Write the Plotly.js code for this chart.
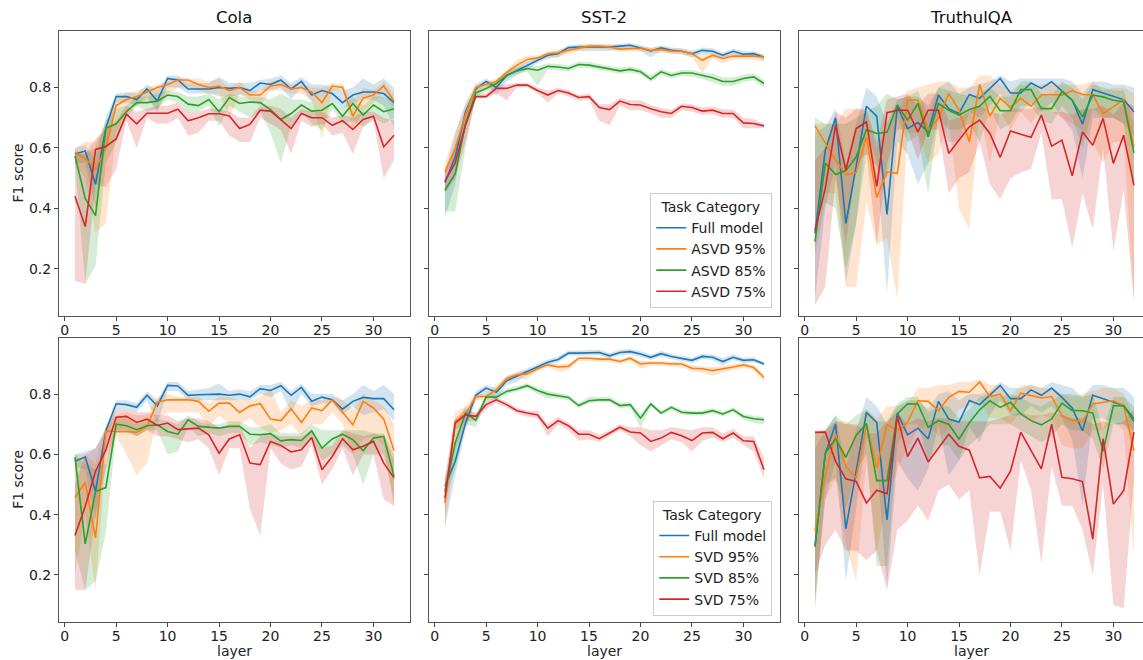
<!DOCTYPE html>
<html>
<head>
<meta charset="utf-8">
<script src="https://cdn.plot.ly/plotly-3.0.1.min.js"></script>
<style>html,body{margin:0;padding:0;background:#fff;}#chart{width:1143px;height:660px;}</style>
</head>
<body>
<div id="chart"></div>
<script>
// ---------- categories / labels ----------
const layers = [1,2,3,4,5,6,7,8,9,10,11,12,13,14,15,16,17,18,19,20,21,22,23,24,25,26,27,28,29,30,31,32];
const panelTitles = ["Cola", "SST-2", "TruthulQA"];
const namesASVD = ["Full model", "ASVD 95%", "ASVD 85%", "ASVD 75%"];
const namesSVD = ["Full model", "SVD 95%", "SVD 85%", "SVD 75%"];
const yTickVals = [0.2, 0.4, 0.6, 0.8];
const xTickVals = [0, 5, 10, 15, 20, 25, 30];

// ---------- Cola, ASVD ----------
const colaA_full    = [0.58,0.59,0.48,0.665,0.77,0.77,0.76,0.795,0.755,0.83,0.825,0.795,0.795,0.795,0.80,0.797,0.80,0.79,0.815,0.81,0.825,0.795,0.82,0.775,0.79,0.78,0.75,0.775,0.785,0.785,0.78,0.75];
const colaA_full_lo = [0.55,0.55,0.40,0.60,0.75,0.75,0.74,0.77,0.72,0.80,0.80,0.78,0.78,0.78,0.77,0.77,0.775,0.77,0.79,0.79,0.80,0.76,0.80,0.75,0.76,0.76,0.73,0.75,0.76,0.76,0.74,0.67];
const colaA_full_hi = [0.60,0.61,0.56,0.70,0.78,0.785,0.78,0.81,0.79,0.84,0.84,0.815,0.815,0.815,0.835,0.815,0.815,0.815,0.825,0.83,0.84,0.815,0.835,0.81,0.81,0.80,0.79,0.80,0.83,0.81,0.83,0.80];
const colaA_95      = [0.585,0.565,0.53,0.60,0.74,0.76,0.77,0.785,0.80,0.81,0.825,0.825,0.81,0.80,0.805,0.79,0.80,0.775,0.775,0.805,0.81,0.795,0.80,0.785,0.75,0.805,0.80,0.705,0.765,0.775,0.805,0.755];
const colaA_95_lo   = [0.55,0.50,0.32,0.35,0.65,0.72,0.74,0.76,0.73,0.78,0.80,0.80,0.79,0.78,0.78,0.70,0.78,0.76,0.74,0.79,0.79,0.78,0.78,0.76,0.63,0.79,0.79,0.66,0.72,0.75,0.78,0.73];
const colaA_95_hi   = [0.60,0.62,0.62,0.68,0.76,0.78,0.79,0.80,0.81,0.82,0.835,0.83,0.83,0.82,0.83,0.80,0.82,0.79,0.79,0.82,0.825,0.81,0.81,0.80,0.80,0.815,0.81,0.75,0.80,0.79,0.82,0.78];
const colaA_85      = [0.574,0.433,0.376,0.665,0.68,0.72,0.75,0.75,0.755,0.775,0.77,0.745,0.74,0.76,0.72,0.767,0.747,0.752,0.75,0.727,0.694,0.714,0.742,0.722,0.725,0.747,0.705,0.747,0.709,0.742,0.72,0.73];
const colaA_85_lo   = [0.55,0.15,0.21,0.55,0.62,0.70,0.74,0.72,0.73,0.76,0.75,0.72,0.72,0.74,0.67,0.74,0.72,0.70,0.72,0.65,0.55,0.67,0.72,0.68,0.66,0.73,0.68,0.69,0.67,0.70,0.68,0.70];
const colaA_85_hi   = [0.59,0.58,0.60,0.69,0.73,0.74,0.77,0.77,0.78,0.79,0.785,0.77,0.77,0.78,0.76,0.78,0.77,0.77,0.77,0.76,0.78,0.76,0.76,0.75,0.76,0.76,0.73,0.77,0.74,0.77,0.77,0.75];
const colaA_75      = [0.44,0.34,0.595,0.605,0.63,0.712,0.68,0.715,0.715,0.715,0.728,0.69,0.70,0.713,0.713,0.706,0.664,0.678,0.725,0.722,0.694,0.664,0.714,0.70,0.70,0.675,0.69,0.661,0.694,0.705,0.604,0.642];
const colaA_75_lo   = [0.16,0.15,0.48,0.47,0.53,0.69,0.60,0.70,0.68,0.68,0.70,0.64,0.65,0.69,0.69,0.64,0.62,0.62,0.70,0.68,0.66,0.58,0.69,0.67,0.68,0.64,0.65,0.58,0.67,0.69,0.50,0.56];
const colaA_75_hi   = [0.58,0.58,0.63,0.66,0.69,0.74,0.72,0.73,0.74,0.74,0.75,0.72,0.72,0.73,0.73,0.72,0.70,0.70,0.74,0.74,0.73,0.70,0.73,0.72,0.72,0.70,0.71,0.70,0.72,0.72,0.70,0.69];

// ---------- SST-2, ASVD ----------
const sst2A_full    = [0.485,0.57,0.72,0.795,0.82,0.80,0.84,0.857,0.874,0.89,0.907,0.912,0.932,0.934,0.934,0.934,0.934,0.937,0.94,0.931,0.921,0.931,0.923,0.92,0.912,0.923,0.92,0.907,0.92,0.91,0.912,0.90];
const sst2A_full_lo = [0.37,0.48,0.68,0.78,0.81,0.775,0.82,0.84,0.86,0.88,0.895,0.90,0.92,0.922,0.92,0.92,0.922,0.925,0.93,0.92,0.90,0.92,0.912,0.91,0.90,0.912,0.91,0.895,0.91,0.90,0.90,0.89];
const sst2A_full_hi = [0.52,0.65,0.75,0.81,0.83,0.81,0.85,0.87,0.885,0.90,0.915,0.922,0.94,0.942,0.942,0.942,0.942,0.945,0.948,0.94,0.93,0.94,0.932,0.93,0.922,0.932,0.93,0.915,0.928,0.92,0.92,0.908];
const sst2A_95      = [0.52,0.60,0.71,0.80,0.81,0.82,0.85,0.874,0.893,0.898,0.912,0.915,0.923,0.931,0.937,0.937,0.934,0.927,0.929,0.93,0.923,0.926,0.921,0.92,0.912,0.89,0.907,0.896,0.904,0.904,0.904,0.90];
const sst2A_95_lo   = [0.48,0.55,0.67,0.79,0.80,0.81,0.84,0.86,0.88,0.89,0.90,0.90,0.912,0.922,0.928,0.928,0.925,0.918,0.92,0.92,0.914,0.916,0.912,0.91,0.90,0.848,0.896,0.88,0.893,0.893,0.892,0.885];
const sst2A_95_hi   = [0.55,0.65,0.74,0.81,0.82,0.83,0.86,0.89,0.905,0.907,0.92,0.925,0.932,0.94,0.945,0.945,0.942,0.936,0.937,0.938,0.932,0.934,0.93,0.928,0.92,0.91,0.915,0.91,0.913,0.913,0.913,0.91];
const sst2A_85      = [0.46,0.515,0.68,0.782,0.797,0.813,0.84,0.855,0.863,0.857,0.87,0.868,0.863,0.876,0.874,0.868,0.863,0.855,0.86,0.852,0.828,0.852,0.84,0.848,0.848,0.84,0.832,0.82,0.82,0.83,0.835,0.813];
const sst2A_85_lo   = [0.39,0.39,0.60,0.77,0.787,0.80,0.83,0.845,0.853,0.805,0.86,0.857,0.853,0.866,0.864,0.858,0.853,0.845,0.85,0.842,0.818,0.842,0.83,0.838,0.836,0.828,0.818,0.806,0.806,0.818,0.823,0.80];
const sst2A_85_hi   = [0.48,0.60,0.72,0.79,0.807,0.823,0.85,0.865,0.873,0.87,0.88,0.878,0.873,0.886,0.884,0.878,0.873,0.865,0.87,0.862,0.84,0.862,0.85,0.858,0.858,0.85,0.845,0.834,0.834,0.842,0.847,0.825];
const sst2A_75      = [0.49,0.55,0.675,0.77,0.77,0.797,0.797,0.808,0.808,0.79,0.775,0.79,0.782,0.767,0.77,0.734,0.727,0.755,0.744,0.742,0.73,0.72,0.714,0.738,0.734,0.722,0.725,0.714,0.714,0.683,0.681,0.673];
const sst2A_75_lo   = [0.45,0.50,0.62,0.765,0.765,0.78,0.758,0.80,0.80,0.78,0.75,0.78,0.77,0.755,0.76,0.69,0.675,0.74,0.725,0.725,0.715,0.70,0.70,0.725,0.72,0.71,0.712,0.70,0.70,0.665,0.665,0.665];
const sst2A_75_hi   = [0.52,0.60,0.71,0.78,0.78,0.81,0.81,0.815,0.815,0.80,0.79,0.80,0.792,0.775,0.78,0.745,0.745,0.765,0.758,0.758,0.742,0.732,0.726,0.748,0.745,0.735,0.737,0.728,0.727,0.70,0.695,0.68];

// ---------- TruthulQA, ASVD ----------
const tqaA_full    = [0.317,0.593,0.70,0.35,0.538,0.738,0.705,0.38,0.738,0.664,0.684,0.653,0.775,0.73,0.714,0.777,0.764,0.797,0.83,0.782,0.782,0.815,0.797,0.819,0.79,0.758,0.679,0.793,0.782,0.771,0.76,0.72];
const tqaA_full_lo = [0.10,0.40,0.55,0.15,0.35,0.66,0.55,0.12,0.62,0.58,0.48,0.55,0.70,0.62,0.62,0.72,0.70,0.74,0.78,0.72,0.72,0.75,0.72,0.75,0.70,0.66,0.50,0.70,0.70,0.70,0.68,0.64];
const tqaA_full_hi = [0.65,0.67,0.73,0.55,0.68,0.80,0.77,0.68,0.76,0.77,0.77,0.74,0.80,0.82,0.78,0.80,0.81,0.82,0.84,0.82,0.83,0.83,0.83,0.83,0.83,0.82,0.78,0.82,0.82,0.81,0.81,0.80];
const tqaA_95      = [0.673,0.617,0.56,0.512,0.519,0.637,0.436,0.521,0.516,0.76,0.758,0.659,0.698,0.78,0.725,0.62,0.81,0.705,0.764,0.734,0.764,0.738,0.775,0.777,0.775,0.79,0.777,0.775,0.714,0.736,0.76,0.604];
const tqaA_95_lo   = [0.32,0.45,0.45,0.14,0.14,0.42,0.28,0.30,0.10,0.65,0.65,0.55,0.58,0.69,0.40,0.33,0.72,0.55,0.72,0.66,0.72,0.68,0.73,0.72,0.70,0.68,0.66,0.62,0.55,0.62,0.62,0.10];
const tqaA_95_hi   = [0.68,0.68,0.68,0.73,0.73,0.72,0.60,0.66,0.72,0.79,0.80,0.81,0.82,0.82,0.80,0.80,0.84,0.84,0.81,0.79,0.81,0.80,0.81,0.81,0.81,0.81,0.81,0.82,0.79,0.80,0.80,0.78];
const tqaA_85      = [0.29,0.55,0.512,0.525,0.57,0.66,0.648,0.652,0.742,0.692,0.747,0.637,0.747,0.725,0.709,0.727,0.738,0.771,0.723,0.723,0.793,0.793,0.73,0.73,0.786,0.758,0.703,0.775,0.769,0.758,0.753,0.584];
const tqaA_85_lo   = [0.25,0.42,0.40,0.20,0.35,0.58,0.54,0.50,0.70,0.62,0.64,0.45,0.70,0.66,0.66,0.68,0.62,0.73,0.66,0.68,0.74,0.74,0.69,0.68,0.74,0.70,0.60,0.73,0.70,0.70,0.68,0.45];
const tqaA_85_hi   = [0.70,0.68,0.68,0.68,0.70,0.72,0.74,0.78,0.76,0.77,0.79,0.71,0.80,0.79,0.78,0.77,0.78,0.80,0.77,0.77,0.82,0.82,0.78,0.77,0.82,0.80,0.76,0.81,0.80,0.79,0.79,0.68];
const tqaA_75      = [0.328,0.466,0.675,0.527,0.664,0.686,0.472,0.717,0.725,0.725,0.653,0.725,0.725,0.582,0.626,0.67,0.692,0.648,0.569,0.656,0.645,0.635,0.709,0.606,0.626,0.508,0.653,0.609,0.698,0.549,0.642,0.477];
const tqaA_75_lo   = [0.08,0.14,0.50,0.28,0.55,0.58,0.28,0.55,0.66,0.66,0.56,0.66,0.66,0.45,0.50,0.52,0.62,0.48,0.43,0.50,0.52,0.53,0.65,0.43,0.43,0.27,0.45,0.33,0.60,0.26,0.46,0.09];
const tqaA_75_hi   = [0.56,0.60,0.72,0.70,0.73,0.73,0.62,0.76,0.77,0.78,0.74,0.78,0.78,0.69,0.70,0.72,0.74,0.72,0.71,0.73,0.73,0.73,0.74,0.72,0.72,0.71,0.73,0.73,0.74,0.71,0.75,0.74];

// ---------- Cola, SVD ----------
const colaS_full    = [0.577,0.591,0.477,0.678,0.768,0.765,0.756,0.796,0.761,0.829,0.827,0.796,0.798,0.798,0.80,0.796,0.80,0.791,0.818,0.812,0.828,0.796,0.822,0.776,0.79,0.781,0.75,0.776,0.789,0.785,0.785,0.748];
const colaS_full_lo = [0.56,0.55,0.38,0.62,0.75,0.75,0.74,0.78,0.70,0.81,0.81,0.78,0.78,0.78,0.78,0.78,0.78,0.78,0.80,0.79,0.81,0.74,0.80,0.76,0.77,0.77,0.73,0.76,0.73,0.74,0.75,0.71];
const colaS_full_hi = [0.60,0.61,0.62,0.69,0.78,0.78,0.77,0.81,0.78,0.84,0.84,0.81,0.815,0.82,0.835,0.81,0.815,0.81,0.83,0.83,0.84,0.81,0.835,0.80,0.80,0.80,0.78,0.80,0.83,0.81,0.83,0.80];
const colaS_95      = [0.457,0.507,0.323,0.678,0.676,0.676,0.673,0.693,0.773,0.781,0.781,0.781,0.776,0.743,0.77,0.77,0.739,0.761,0.768,0.717,0.712,0.751,0.706,0.754,0.745,0.781,0.74,0.698,0.776,0.754,0.717,0.612];
const colaS_95_lo   = [0.20,0.40,0.15,0.60,0.66,0.60,0.53,0.57,0.72,0.74,0.74,0.74,0.74,0.69,0.73,0.70,0.70,0.72,0.69,0.67,0.68,0.70,0.66,0.70,0.70,0.74,0.70,0.60,0.65,0.66,0.63,0.42];
const colaS_95_hi   = [0.60,0.60,0.57,0.70,0.73,0.74,0.73,0.73,0.79,0.80,0.79,0.79,0.79,0.77,0.79,0.79,0.78,0.78,0.79,0.82,0.74,0.78,0.76,0.78,0.78,0.79,0.78,0.75,0.80,0.78,0.76,0.70];
const colaS_85      = [0.591,0.303,0.477,0.49,0.70,0.695,0.682,0.695,0.698,0.676,0.667,0.715,0.693,0.691,0.687,0.693,0.693,0.667,0.665,0.669,0.645,0.649,0.646,0.678,0.621,0.651,0.667,0.649,0.612,0.654,0.66,0.527];
const colaS_85_lo   = [0.28,0.15,0.18,0.34,0.67,0.67,0.66,0.68,0.68,0.60,0.61,0.69,0.66,0.67,0.66,0.67,0.67,0.63,0.64,0.63,0.62,0.63,0.62,0.65,0.58,0.60,0.63,0.60,0.50,0.60,0.60,0.45];
const colaS_85_hi   = [0.60,0.57,0.55,0.57,0.72,0.72,0.70,0.71,0.72,0.71,0.70,0.73,0.71,0.70,0.70,0.71,0.71,0.69,0.69,0.70,0.67,0.67,0.67,0.70,0.68,0.68,0.68,0.68,0.68,0.67,0.67,0.60];
const colaS_75      = [0.331,0.428,0.544,0.615,0.723,0.726,0.706,0.717,0.696,0.704,0.682,0.685,0.687,0.665,0.604,0.651,0.665,0.571,0.566,0.643,0.63,0.608,0.615,0.656,0.549,0.593,0.652,0.615,0.627,0.643,0.571,0.522];
const colaS_75_lo   = [0.15,0.15,0.40,0.55,0.68,0.68,0.66,0.68,0.66,0.66,0.65,0.64,0.65,0.62,0.53,0.62,0.62,0.42,0.33,0.62,0.57,0.55,0.56,0.63,0.50,0.55,0.62,0.53,0.60,0.60,0.45,0.43];
const colaS_75_hi   = [0.50,0.60,0.62,0.68,0.75,0.75,0.74,0.74,0.73,0.73,0.71,0.72,0.72,0.71,0.69,0.70,0.70,0.62,0.66,0.67,0.66,0.66,0.66,0.68,0.62,0.63,0.68,0.67,0.66,0.67,0.66,0.58];

// ---------- SST-2, SVD ----------
const sst2S_full    = [0.494,0.577,0.704,0.796,0.82,0.806,0.844,0.859,0.875,0.89,0.906,0.915,0.936,0.936,0.938,0.938,0.927,0.938,0.941,0.933,0.922,0.934,0.925,0.919,0.912,0.925,0.922,0.908,0.922,0.912,0.914,0.90];
const sst2S_full_lo = [0.36,0.53,0.68,0.78,0.80,0.78,0.83,0.84,0.865,0.88,0.897,0.906,0.927,0.927,0.929,0.929,0.918,0.929,0.932,0.924,0.913,0.925,0.916,0.91,0.903,0.916,0.913,0.895,0.913,0.903,0.905,0.895];
const sst2S_full_hi = [0.52,0.63,0.73,0.81,0.83,0.82,0.86,0.87,0.885,0.90,0.915,0.924,0.945,0.945,0.947,0.947,0.936,0.947,0.95,0.942,0.931,0.943,0.934,0.928,0.921,0.934,0.931,0.92,0.931,0.921,0.923,0.905];
const sst2S_95      = [0.439,0.709,0.734,0.792,0.792,0.814,0.851,0.864,0.867,0.884,0.897,0.89,0.892,0.919,0.919,0.916,0.916,0.908,0.919,0.90,0.903,0.903,0.90,0.90,0.886,0.884,0.878,0.883,0.89,0.897,0.888,0.855];
const sst2S_95_lo   = [0.35,0.62,0.69,0.78,0.78,0.80,0.84,0.85,0.85,0.875,0.89,0.875,0.88,0.91,0.91,0.907,0.907,0.899,0.91,0.885,0.894,0.894,0.891,0.891,0.875,0.872,0.86,0.872,0.88,0.888,0.878,0.84];
const sst2S_95_hi   = [0.52,0.74,0.76,0.80,0.80,0.83,0.86,0.875,0.88,0.89,0.905,0.90,0.90,0.925,0.925,0.922,0.922,0.915,0.925,0.91,0.91,0.91,0.908,0.908,0.895,0.893,0.89,0.892,0.898,0.905,0.896,0.865];
const sst2S_85      = [0.477,0.638,0.737,0.713,0.79,0.79,0.809,0.817,0.828,0.812,0.80,0.794,0.789,0.762,0.778,0.781,0.781,0.762,0.765,0.72,0.767,0.737,0.756,0.74,0.737,0.737,0.745,0.734,0.748,0.726,0.718,0.715];
const sst2S_85_lo   = [0.45,0.55,0.70,0.69,0.78,0.78,0.80,0.808,0.82,0.80,0.785,0.785,0.78,0.755,0.77,0.773,0.773,0.753,0.756,0.687,0.76,0.73,0.748,0.732,0.729,0.729,0.737,0.726,0.74,0.715,0.705,0.70];
const sst2S_85_hi   = [0.50,0.70,0.76,0.73,0.80,0.80,0.818,0.826,0.836,0.822,0.81,0.803,0.798,0.77,0.79,0.79,0.79,0.771,0.774,0.735,0.775,0.745,0.764,0.748,0.745,0.745,0.753,0.742,0.756,0.735,0.728,0.725];
const sst2S_75      = [0.455,0.704,0.731,0.726,0.765,0.781,0.765,0.745,0.737,0.731,0.687,0.712,0.695,0.667,0.667,0.652,0.671,0.69,0.674,0.671,0.643,0.654,0.673,0.662,0.646,0.671,0.673,0.652,0.671,0.645,0.643,0.549];
const sst2S_75_lo   = [0.40,0.68,0.71,0.71,0.75,0.77,0.755,0.735,0.725,0.72,0.66,0.70,0.68,0.645,0.65,0.64,0.66,0.68,0.66,0.63,0.61,0.63,0.65,0.64,0.61,0.645,0.655,0.64,0.655,0.63,0.61,0.52];
const sst2S_75_hi   = [0.52,0.72,0.75,0.74,0.78,0.79,0.775,0.755,0.745,0.745,0.70,0.725,0.705,0.68,0.68,0.665,0.68,0.70,0.69,0.69,0.68,0.68,0.69,0.685,0.68,0.69,0.69,0.67,0.685,0.66,0.66,0.59];

// ---------- TruthulQA, SVD ----------
const tqaS_full    = [0.295,0.602,0.70,0.354,0.544,0.739,0.706,0.383,0.737,0.665,0.687,0.651,0.776,0.717,0.707,0.779,0.765,0.798,0.829,0.785,0.785,0.814,0.796,0.82,0.789,0.754,0.678,0.796,0.785,0.773,0.762,0.718];
const tqaS_full_lo = [0.12,0.45,0.58,0.18,0.42,0.66,0.58,0.16,0.58,0.52,0.48,0.55,0.70,0.53,0.58,0.69,0.64,0.73,0.78,0.73,0.73,0.76,0.74,0.76,0.72,0.65,0.43,0.72,0.72,0.70,0.70,0.68];
const tqaS_full_hi = [0.62,0.68,0.73,0.56,0.68,0.79,0.76,0.70,0.76,0.78,0.78,0.75,0.80,0.81,0.78,0.80,0.80,0.81,0.84,0.82,0.82,0.83,0.82,0.84,0.83,0.82,0.79,0.83,0.83,0.82,0.82,0.79];
const tqaS_95      = [0.345,0.53,0.667,0.56,0.522,0.698,0.555,0.70,0.678,0.707,0.778,0.776,0.745,0.789,0.809,0.806,0.84,0.792,0.80,0.745,0.803,0.796,0.787,0.792,0.729,0.712,0.709,0.767,0.773,0.778,0.762,0.612];
const tqaS_95_lo   = [0.10,0.45,0.52,0.30,0.18,0.58,0.28,0.45,0.55,0.62,0.68,0.70,0.66,0.68,0.75,0.76,0.78,0.72,0.72,0.70,0.74,0.71,0.73,0.72,0.63,0.62,0.62,0.68,0.68,0.71,0.68,0.26];
const tqaS_95_hi   = [0.67,0.66,0.71,0.71,0.69,0.75,0.72,0.76,0.76,0.77,0.82,0.82,0.83,0.83,0.84,0.84,0.85,0.83,0.83,0.79,0.83,0.83,0.82,0.82,0.80,0.79,0.80,0.81,0.82,0.82,0.80,0.73];
const tqaS_85      = [0.295,0.604,0.652,0.59,0.663,0.702,0.513,0.513,0.734,0.768,0.767,0.69,0.712,0.70,0.651,0.705,0.748,0.778,0.756,0.773,0.734,0.712,0.698,0.718,0.77,0.746,0.745,0.737,0.61,0.762,0.761,0.709];
const tqaS_85_lo   = [0.08,0.50,0.52,0.42,0.55,0.60,0.23,0.23,0.63,0.70,0.70,0.58,0.63,0.63,0.58,0.63,0.66,0.70,0.70,0.70,0.68,0.66,0.64,0.66,0.70,0.68,0.68,0.65,0.55,0.70,0.70,0.65];
const tqaS_85_hi   = [0.67,0.68,0.73,0.70,0.73,0.75,0.71,0.71,0.77,0.79,0.79,0.74,0.76,0.76,0.72,0.75,0.79,0.80,0.79,0.80,0.79,0.77,0.76,0.78,0.80,0.80,0.79,0.80,0.68,0.79,0.79,0.76];
const tqaS_75      = [0.673,0.674,0.577,0.519,0.51,0.439,0.481,0.47,0.726,0.593,0.654,0.575,0.621,0.667,0.627,0.614,0.522,0.527,0.488,0.544,0.674,0.612,0.552,0.70,0.524,0.519,0.51,0.319,0.652,0.435,0.48,0.674];
const tqaS_75_lo   = [0.20,0.30,0.35,0.28,0.28,0.25,0.28,0.15,0.35,0.38,0.43,0.38,0.48,0.50,0.45,0.48,0.20,0.41,0.41,0.28,0.58,0.48,0.24,0.56,0.43,0.43,0.35,0.20,0.50,0.10,0.09,0.52];
const tqaS_75_hi   = [0.68,0.68,0.71,0.70,0.70,0.67,0.67,0.71,0.74,0.70,0.72,0.71,0.72,0.72,0.71,0.71,0.71,0.71,0.72,0.73,0.74,0.73,0.73,0.74,0.73,0.72,0.72,0.70,0.71,0.70,0.71,0.75];

// ---------- styles ----------
const lineColors = ["#1f77b4", "#ff7f0e", "#2ca02c", "#d62728"];
const bandColors = ["rgba(31,119,180,0.2)", "rgba(255,127,14,0.2)", "rgba(44,160,44,0.2)", "rgba(214,39,40,0.2)"];

const panels = [
  {ax: "", names: namesASVD, legend: null, series: [[colaA_full,colaA_full_lo,colaA_full_hi],[colaA_95,colaA_95_lo,colaA_95_hi],[colaA_85,colaA_85_lo,colaA_85_hi],[colaA_75,colaA_75_lo,colaA_75_hi]]},
  {ax: "2", names: namesASVD, legend: "legend", series: [[sst2A_full,sst2A_full_lo,sst2A_full_hi],[sst2A_95,sst2A_95_lo,sst2A_95_hi],[sst2A_85,sst2A_85_lo,sst2A_85_hi],[sst2A_75,sst2A_75_lo,sst2A_75_hi]]},
  {ax: "3", names: namesASVD, legend: null, series: [[tqaA_full,tqaA_full_lo,tqaA_full_hi],[tqaA_95,tqaA_95_lo,tqaA_95_hi],[tqaA_85,tqaA_85_lo,tqaA_85_hi],[tqaA_75,tqaA_75_lo,tqaA_75_hi]]},
  {ax: "4", names: namesSVD, legend: null, series: [[colaS_full,colaS_full_lo,colaS_full_hi],[colaS_95,colaS_95_lo,colaS_95_hi],[colaS_85,colaS_85_lo,colaS_85_hi],[colaS_75,colaS_75_lo,colaS_75_hi]]},
  {ax: "5", names: namesSVD, legend: "legend2", series: [[sst2S_full,sst2S_full_lo,sst2S_full_hi],[sst2S_95,sst2S_95_lo,sst2S_95_hi],[sst2S_85,sst2S_85_lo,sst2S_85_hi],[sst2S_75,sst2S_75_lo,sst2S_75_hi]]},
  {ax: "6", names: namesSVD, legend: null, series: [[tqaS_full,tqaS_full_lo,tqaS_full_hi],[tqaS_95,tqaS_95_lo,tqaS_95_hi],[tqaS_85,tqaS_85_lo,tqaS_85_hi],[tqaS_75,tqaS_75_lo,tqaS_75_hi]]}
];

const traces = [];
panels.forEach(p => {
  const xa = "x" + p.ax, ya = "y" + p.ax;
  p.series.forEach((s, i) => {
    traces.push({x: layers, y: s[1], xaxis: xa, yaxis: ya, mode: "lines", line: {width: 0, color: bandColors[i]}, showlegend: false, hoverinfo: "skip"});
    traces.push({x: layers, y: s[2], xaxis: xa, yaxis: ya, mode: "lines", line: {width: 0, color: bandColors[i]}, fill: "tonexty", fillcolor: bandColors[i], showlegend: false, hoverinfo: "skip"});
  });
  p.series.forEach((s, i) => {
    const t = {x: layers, y: s[0], xaxis: xa, yaxis: ya, mode: "lines", name: p.names[i], line: {width: 1.6, color: lineColors[i]}, showlegend: !!p.legend};
    if (p.legend) t.legend = p.legend;
    traces.push(t);
  });
});

// ---------- layout ----------
const FONT = "DejaVu Sans, sans-serif";
const colDom = [[0, 0.3238], [0.3413, 0.6651], [0.6827, 1]];
const rowDom = [[0.5178, 1], [0, 0.481]];
const xRanges = [[-0.55, 33.55], [-0.55, 33.55], [-0.55, 32.88]];
const yRange = [0.044, 0.987];

function legendCfg(yPos) {
  return {
    x: 0.658, y: yPos, xanchor: "right", yanchor: "bottom", traceorder: "normal",
    bgcolor: "rgba(255,255,255,0.85)", bordercolor: "#cccccc", borderwidth: 1,
    font: {family: FONT, size: 14, color: "#222"}, tracegroupgap: 0,
    title: {text: "Task Category", side: "top center", font: {family: FONT, size: 14, color: "#222"}}
  };
}

const layout = {
  width: 1143, height: 660,
  margin: {l: 59, r: 0, t: 31, b: 38},
  paper_bgcolor: "#ffffff", plot_bgcolor: "#ffffff",
  font: {family: FONT, size: 14, color: "#222"},
  showlegend: true,
  annotations: [],
  legend: legendCfg(0.5315),
  legend2: legendCfg(0.0107)
};

for (let k = 0; k < 6; k++) {
  const r = Math.floor(k / 3), c = k % 3;
  const suf = k === 0 ? "" : String(k + 1);
  layout["xaxis" + suf] = {
    domain: colDom[c], range: xRanges[c], anchor: "y" + suf,
    tickvals: xTickVals, ticks: "outside", ticklen: 4, tickwidth: 1, tickcolor: "#444",
    ticklabelstandoff: -3,
    showline: true, linecolor: "#555", linewidth: 1, mirror: true,
    showgrid: false, zeroline: false, tickfont: {family: FONT, size: 14, color: "#222"}
  };
  layout["yaxis" + suf] = {
    domain: rowDom[r], range: yRange, anchor: "x" + suf,
    tickvals: yTickVals, ticktext: ["0.2", "0.4", "0.6", "0.8"], ticks: "outside", ticklen: 4, tickwidth: 1, tickcolor: "#444",
    showticklabels: c === 0,
    showline: true, linecolor: "#555", linewidth: 1, mirror: c !== 2,
    showgrid: false, zeroline: false, tickfont: {family: FONT, size: 14, color: "#222"}
  };
}

// subplot titles (top row)
panelTitles.forEach((t, c) => {
  layout.annotations.push({text: t, xref: "paper", yref: "paper", x: (colDom[c][0] + colDom[c][1]) / 2, y: 1,
    xanchor: "center", yanchor: "bottom", yshift: 2, showarrow: false, font: {family: FONT, size: 16.5, color: "#111"}});
});
// y-axis titles
rowDom.forEach(d => {
  layout.annotations.push({text: "F1 score", xref: "paper", yref: "paper", x: 0, y: (d[0] + d[1]) / 2,
    xanchor: "center", yanchor: "middle", xshift: -41, textangle: -90, showarrow: false, font: {family: FONT, size: 14, color: "#222"}});
});
// x-axis titles (bottom row)
colDom.forEach(d => {
  layout.annotations.push({text: "layer", xref: "paper", yref: "paper", x: (d[0] + d[1]) / 2, y: 0,
    xanchor: "center", yanchor: "middle", yshift: -29, showarrow: false, font: {family: FONT, size: 14, color: "#222"}});
});

Plotly.newPlot("chart", traces, layout, {displayModeBar: false, staticPlot: true});
</script>
</body>
</html>
